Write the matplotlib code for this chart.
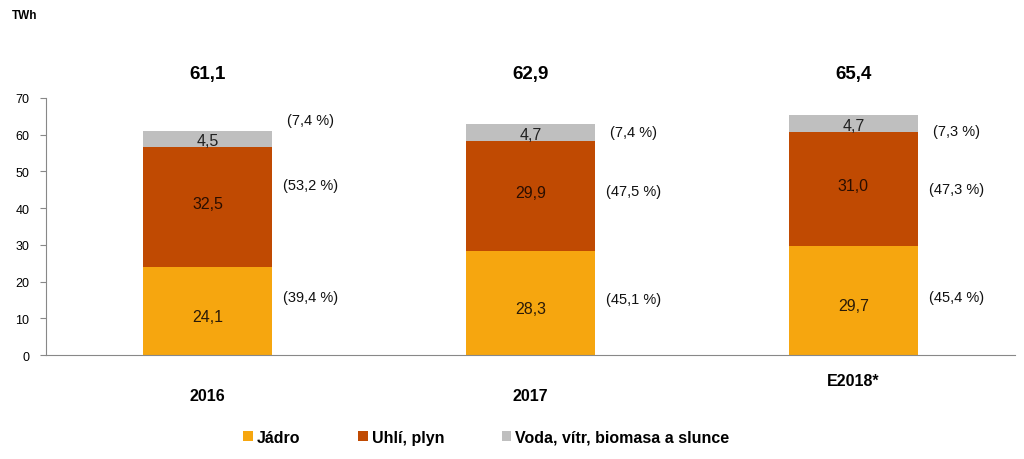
import matplotlib.pyplot as plt
import numpy as np

plt.rcParams['font.family'] = ['Liberation Sans', 'DejaVu Sans']

years = ['2016', '2017', 'E2018*']
jadro = [24.1, 28.3, 29.7]
uhli = [32.5, 29.9, 31.0]
voda = [4.5, 4.7, 4.7]
totals = ['61,1', '62,9', '65,4']
pct_jadro = ['(39,4 %)', '(45,1 %)', '(45,4 %)']
pct_uhli = ['(53,2 %)', '(47,5 %)', '(47,3 %)']
pct_voda = ['(7,4 %)', '(7,4 %)', '(7,3 %)']
# where the percent labels sit (TWh scale)
pct_y = [[15.8, 46.3, 64.0], [15.3, 44.7, 60.8], [15.8, 45.2, 61.0]]

c_jadro = '#F6A60F'
c_uhli = '#C04A02'
c_voda = '#BFBFBF'

fig = plt.figure(figsize=(10.24, 4.6), dpi=100)
ax = fig.add_axes([0.045, 0.226, 0.946, 0.559])

x = np.arange(len(years))
w = 0.4
b1 = ax.bar(x, jadro, w, color=c_jadro, label='Jádro')
b2 = ax.bar(x, uhli, w, bottom=jadro, color=c_uhli, label='Uhlí, plyn')
bot3 = np.array(jadro) + np.array(uhli)
b3 = ax.bar(x, voda, w, bottom=bot3, color=c_voda, label='Voda, vítr, biomasa a slunce')

def fmt(v):
    return ('%.1f' % v).replace('.', ',')

for i in range(len(years)):
    ax.text(x[i], jadro[i] / 2 - 1.5, fmt(jadro[i]), ha='center', va='center', fontsize=11.5, color='#2a1a08')
    ax.text(x[i], jadro[i] + uhli[i] / 2 + 1, fmt(uhli[i]), ha='center', va='center', fontsize=11.5, color='#2a0e00')
    ax.text(x[i], bot3[i] + voda[i] / 2 - 0.5, fmt(voda[i]), ha='center', va='center', fontsize=11.5, color='#222222')
    for lab, yy in zip([pct_jadro[i], pct_uhli[i], pct_voda[i]], pct_y[i]):
        ax.text(x[i] + 0.32, yy, lab, ha='center', va='center', fontsize=10.5, color='#111111')
    ax.text(x[i], 76.6, totals[i], ha='center', va='center', fontsize=13.5, fontweight='bold')

cat_y = [-11, -11, -7]
for i in range(len(years)):
    ax.text(x[i], cat_y[i], years[i], ha='center', va='center', fontsize=11.5, fontweight='bold')

ax.set_xlim(-0.5, 2.5)
ax.set_ylim(0, 70)
ax.set_yticks(range(0, 71, 10))
ax.tick_params(axis='y', labelsize=9, length=4, color='#888888', pad=8)
ax.set_xticks([])
for s in ['top', 'right']:
    ax.spines[s].set_visible(False)
ax.spines['left'].set_color('#888888')
ax.spines['bottom'].set_color('#888888')

fig.text(0.012, 0.965, 'TWh', fontsize=8.5, fontweight='bold', va='center')

fig.legend(handles=[b1, b2, b3], loc='center', bbox_to_anchor=(0.475, 0.047), ncol=3,
           frameon=False, handlelength=0.6, handleheight=0.6,
           handletextpad=0.25, columnspacing=3.6, prop={'weight': 'bold', 'size': 11.5})

fig.savefig('out.png', dpi=100)
